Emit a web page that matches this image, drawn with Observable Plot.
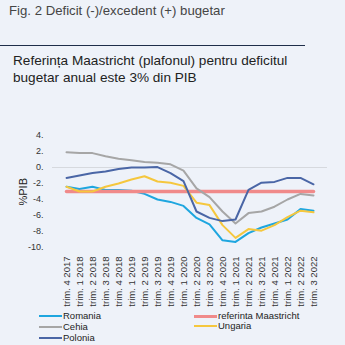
<!DOCTYPE html>
<html>
<head>
<meta charset="utf-8">
<script src="https://cdn.jsdelivr.net/npm/d3@7"></script>
<script src="https://cdn.jsdelivr.net/npm/@observablehq/plot@0.6"></script>
<style>
  html, body { margin: 0; padding: 0; }
  body { width: 345px; height: 345px; background: #EEF2F9; position: relative; overflow: hidden;
         font-family: "Liberation Sans", Arial, sans-serif; }
  .title { position: absolute; left: 9px; top: 3px; font-size: 13.2px; color: #454545; white-space: nowrap; }
  .rule { position: absolute; left: 0; top: 45px; width: 305px; height: 1px; background: #1F2E4A; }
  .sub { position: absolute; left: 13px; top: 52px; font-size: 13.6px; line-height: 17px; color: #222; white-space: nowrap; }
  #chart { position: absolute; left: 0; top: 90px; }
  .legend { position: absolute; font-size: 9.5px; color: #222; }
  .item { position: absolute; white-space: nowrap; height: 11px; line-height: 11px; }
  .sw { display: inline-block; width: 23px; vertical-align: middle; margin-right: 1px; }
</style>
</head>
<body>
<div class="title">Fig. 2 Deficit (-)/excedent (+) bugetar</div>
<div class="rule"></div>
<div class="sub">Referința Maastricht (plafonul) pentru deficitul<br>bugetar anual este 3% din PIB</div>
<div id="chart"></div>
<div id="legend" class="legend"></div>
<script>
const quarters = [
  "trim. 4 2017",
  "trim. 1 2018", "trim. 2 2018", "trim. 3 2018", "trim. 4 2018",
  "trim. 1 2019", "trim. 2 2019", "trim. 3 2019", "trim. 4 2019",
  "trim. 1 2020", "trim. 2 2020", "trim. 3 2020", "trim. 4 2020",
  "trim. 1 2021", "trim. 2 2021", "trim. 3 2021", "trim. 4 2021",
  "trim. 1 2022", "trim. 2 2022", "trim. 3 2022"
];
const romania = [-2.4, -2.7, -2.4, -2.8, -2.8, -2.9, -3.3, -4.0, -4.3, -4.8, -6.3, -7.1, -9.1, -9.3, -8.2, -7.5, -7.0, -6.5, -5.2, -5.4];
const referinta = [-3, -3, -3, -3, -3, -3, -3, -3, -3, -3, -3, -3, -3, -3, -3, -3, -3, -3, -3, -3];
const cehia = [1.9, 1.8, 1.8, 1.4, 1.1, 0.9, 0.7, 0.6, 0.4, -0.4, -2.6, -3.7, -5.5, -7.0, -5.7, -5.5, -4.9, -4.0, -3.3, -3.5];
const ungaria = [-2.4, -3.0, -3.0, -2.4, -2.0, -1.5, -1.1, -1.75, -1.9, -2.3, -4.4, -4.7, -7.2, -8.8, -7.7, -7.9, -7.2, -6.2, -5.4, -5.6];
const polonia = [-1.3, -1.0, -0.7, -0.5, -0.2, 0.0, 0.0, 0.05, -0.7, -1.7, -5.5, -6.3, -6.7, -6.5, -2.8, -1.9, -1.8, -1.3, -1.3, -2.1];
const yTicks = [4, 2, 0, -2, -4, -6, -8, -10];

const seriesNames = ["Romania", "referinta Maastricht", "Cehia", "Ungaria", "Polonia"];
const seriesColors = ["#1EA6DF", "#F08A8A", "#A6A6A6", "#F5C73E", "#4A66A6"];
const seriesValues = [romania, referinta, cehia, ungaria, polonia];
const seriesWidths = [2, 3.5, 2, 2, 2];

const rows = seriesNames.map((s, k) => quarters.map((q, i) => ({ q, v: seriesValues[k][i], s })));

const chart = Plot.plot({
  width: 345,
  height: 220,
  marginTop: 45,
  marginBottom: 63,
  marginLeft: 52,
  marginRight: 18,
  style: { background: "transparent", fontFamily: "'Liberation Sans', Arial, sans-serif", color: "#333" },
  x: { type: "point", domain: quarters, padding: 0.5 },
  y: { domain: [-10, 4] },
  color: { domain: seriesNames, range: seriesColors },
  marks: [
    Plot.ruleY([0], { stroke: "#D6D9DE", strokeWidth: 1 }),
    ...rows.map((r, k) => Plot.line(r, { x: "q", y: "v", stroke: "s", strokeWidth: seriesWidths[k], strokeLinejoin: "round" })),
    Plot.axisY({ ticks: yTicks, tickFormat: d => `${d}.`, tickSize: 0, tickPadding: 9, fontSize: 9, label: null }),
    Plot.axisX({ tickRotate: -90, tickSize: 0, tickPadding: 9, fontSize: 9.5, label: null }),
    Plot.text(["%PIB"], { frameAnchor: "left", dx: -29, dy: 14, rotate: -90, fontSize: 11, fill: "#222" })
  ]
});
document.getElementById("chart").appendChild(chart);

// legend
const legend = document.getElementById("legend");
const pos = [
  [39, 310], [194, 310],
  [39, 321], [194, 320],
  [39, 332]
];
seriesNames.forEach((name, k) => {
  const d = document.createElement("div");
  d.className = "item";
  d.style.left = pos[k][0] + "px";
  d.style.top = pos[k][1] + "px";
  const sw = document.createElement("span");
  sw.className = "sw";
  sw.style.borderTop = `${k === 1 ? 3 : 2}px solid ${seriesColors[k]}`;
  d.appendChild(sw);
  d.appendChild(document.createTextNode(name));
  legend.appendChild(d);
});
</script>
</body>
</html>
